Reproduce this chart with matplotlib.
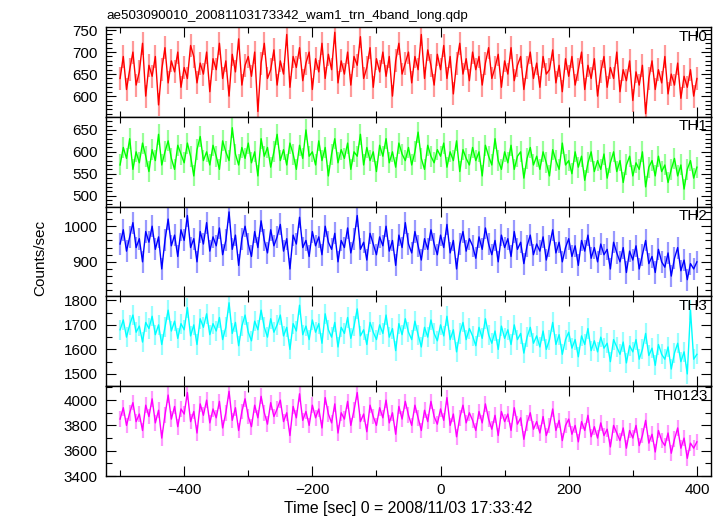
import numpy as np
import matplotlib
matplotlib.use("Agg")
import matplotlib.pyplot as plt
from matplotlib.ticker import MultipleLocator

plt.rcParams['font.family'] = ['Liberation Sans', 'DejaVu Sans']

# time grid: one value every 5 s from -500 to 400
t_start, t_step = -500, 5

th0 = [
    640, 690, 615, 660, 700, 625, 655, 720, 600, 670,
    645, 690, 580, 660, 710, 630, 680, 655, 700, 620,
    665, 640, 715, 690, 630, 675, 650, 700, 610, 685,
    660, 720, 640, 680, 600, 695, 655, 730, 625, 670,
    690, 645, 700, 565, 675, 720, 640, 660, 705, 625,
    680, 650, 740, 620, 690, 665, 710, 635, 675, 700,
    615, 685, 655, 720, 640, 695, 660, 745, 630, 680,
    650, 700, 625, 690, 670, 735, 640, 665, 710, 620,
    685, 655, 700, 645, 690, 600, 680, 720, 650, 675,
    700, 630, 690, 660, 740, 640, 705, 670, 625, 695,
    660, 715, 640, 690, 605, 675, 720, 650, 685, 635,
    700, 660, 690, 625, 675, 710, 640, 665, 695, 620,
    680, 650, 710, 635, 670, 690, 615, 665, 700, 640,
    675, 620, 690, 650, 660, 705, 630, 670, 610, 685,
    645, 690, 625, 660, 700, 615, 670, 640, 685, 600,
    655, 690, 620, 665, 640, 700, 610, 660, 635, 680,
    590, 655, 625, 670, 560, 640, 680, 615, 660, 630,
    690, 605, 650, 625, 675, 595, 645, 620, 660, 600,
    640]

th1 = [
    570, 610, 585, 630, 560, 600, 575, 620, 590, 555,
    605, 580, 640, 570, 600, 625, 585, 560, 615, 595,
    575, 620, 590, 545, 605, 635, 580, 600, 570, 615,
    590, 560, 625, 600, 580, 655, 595, 570, 610, 585,
    620, 575, 600, 545, 630, 590, 610, 565, 600, 640,
    580, 605, 570, 620, 595, 560, 615, 585, 650, 590,
    600, 570, 625, 580, 610, 545, 595, 630, 575, 605,
    585, 620, 560, 600, 590, 640, 570, 610, 580, 600,
    555, 615, 590, 630, 575, 600, 565, 620, 595, 580,
    610, 570, 600, 645, 585, 560, 615, 590, 575, 605,
    590, 620, 565, 600, 580, 625, 555, 605, 585, 570,
    610, 580, 600, 545, 615, 590, 570, 630, 580, 560,
    600, 575, 615, 560, 590, 600, 540, 585, 610, 570,
    590, 560, 600, 575, 545, 605, 580, 560, 620, 570,
    580, 550, 600, 565, 590, 535, 575, 600, 555, 580,
    560, 595, 540, 575, 600, 555, 580, 530, 570, 590,
    545, 575, 560, 600, 520, 565, 580, 545, 590, 555,
    570, 530, 560, 585, 545, 570, 515, 560, 580, 540,
    565]

th2 = [
    950, 990, 930, 970, 1010, 940, 965, 900, 985, 955,
    1000, 935, 970, 880, 960, 1020, 945, 975, 915, 990,
    960, 1030, 940, 965, 900, 985, 950, 1010, 930, 970,
    945, 995, 920, 960, 1040, 935, 975, 890, 965, 1000,
    950, 915, 985, 940, 1015, 960, 925, 990, 945, 970,
    1005, 930, 965, 880, 975, 950, 1025, 940, 960, 915,
    985, 945, 970, 920, 1000, 955, 935, 980, 900, 960,
    940, 995, 925, 965, 1030, 935, 955, 905, 980, 950,
    920, 970, 945, 1000, 930, 960, 890, 975, 940, 1010,
    950, 925, 985, 945, 905, 965, 935, 990, 950, 920,
    975, 940, 1005, 925, 960, 880, 950, 985, 930, 965,
    945, 910, 970, 935, 995, 950, 920, 960, 900, 975,
    940, 965, 915, 985, 935, 955, 895, 945, 975, 920,
    950, 930, 970, 905, 945, 990, 925, 955, 900, 940,
    965, 915, 945, 890, 960, 930, 975, 910, 940, 900,
    950, 920, 935, 880, 955, 925, 900, 940, 870, 930,
    905, 945, 880, 920, 960, 895, 915, 870, 935, 900,
    885, 925, 860, 910, 940, 875, 905, 850, 895, 880,
    900]

th3 = [
    1680, 1720, 1650, 1700, 1740, 1670, 1695, 1630, 1710, 1685,
    1735, 1660, 1700, 1620, 1690, 1760, 1675, 1715, 1645, 1705,
    1680, 1770, 1655, 1700, 1620, 1725, 1690, 1745, 1660, 1705,
    1675, 1730, 1640, 1690, 1790, 1665, 1710, 1615, 1695, 1740,
    1670, 1635, 1715, 1680, 1760, 1690, 1650, 1725, 1670, 1700,
    1740, 1655, 1690, 1600, 1705, 1675, 1780, 1660, 1695, 1640,
    1720, 1670, 1705, 1625, 1745, 1680, 1650, 1710, 1610, 1690,
    1665, 1730, 1645, 1695, 1765, 1655, 1680, 1620, 1710, 1670,
    1640, 1700, 1665, 1740, 1650, 1685, 1595, 1705, 1660, 1725,
    1670, 1640, 1715, 1660, 1610, 1690, 1650, 1720, 1665, 1635,
    1700, 1655, 1735, 1640, 1680, 1590, 1665, 1710, 1640, 1685,
    1655, 1615, 1690, 1645, 1725, 1660, 1625, 1675, 1600, 1695,
    1645, 1680, 1620, 1700, 1640, 1665, 1585, 1650, 1690, 1625,
    1655, 1610, 1675, 1600, 1640, 1710, 1620, 1660, 1580, 1640,
    1670, 1605, 1640, 1570, 1655, 1620, 1685, 1595, 1635, 1590,
    1650, 1605, 1625, 1550, 1640, 1610, 1580, 1630, 1545, 1615,
    1590, 1640, 1560, 1600, 1665, 1575, 1605, 1535, 1620, 1580,
    1560, 1610, 1520, 1585, 1625, 1550, 1590, 1500, 1760, 1560,
    1580]

th0123 = [
    3850, 3940, 3800, 3900, 3980, 3830, 3890, 3760, 3960, 3870,
    4010, 3820, 3920, 3700, 3880, 4040, 3850, 3950, 3790, 3930,
    3890, 4060, 3830, 3910, 3740, 3970, 3880, 4000, 3820, 3930,
    3860, 3990, 3780, 3900, 4070, 3840, 3940, 3760, 3910, 4010,
    3870, 3790, 3960, 3860, 4030, 3900, 3810, 3980, 3870, 3930,
    4000, 3830, 3900, 3720, 3950, 3860, 4050, 3840, 3910, 3800,
    3960, 3860, 3930, 3780, 4020, 3890, 3820, 3970, 3740, 3900,
    3850, 3990, 3800, 3920, 4060, 3830, 3890, 3750, 3960, 3870,
    3800, 3940, 3860, 4000, 3820, 3900, 3730, 3950, 3850, 3990,
    3880, 3800, 3960, 3860, 3760, 3920, 3830, 3990, 3870, 3810,
    3930, 3840, 4020, 3800, 3890, 3710, 3860, 3960, 3820, 3900,
    3840, 3760, 3910, 3820, 3970, 3850, 3770, 3880, 3720, 3910,
    3830, 3890, 3760, 3940, 3810, 3860, 3690, 3820, 3900, 3770,
    3830, 3740, 3870, 3720, 3800, 3930, 3760, 3840, 3680, 3800,
    3850, 3730, 3800, 3670, 3830, 3760, 3880, 3710, 3790, 3700,
    3820, 3720, 3770, 3630, 3800, 3740, 3680, 3780, 3620, 3760,
    3700, 3800, 3640, 3720, 3840, 3660, 3730, 3590, 3760, 3680,
    3640, 3740, 3580, 3690, 3780, 3620, 3700, 3540, 3660, 3620,
    3670]

bands = ["TH0", "TH1", "TH2", "TH3", "TH0123"]
series = [th0, th1, th2, th3, th0123]
errors = [26, 24, 31, 41, 62]
colors = ["#ff0000", "#00ff00", "#0000ff", "#00ffff", "#ff00ff"]
ylims = [(553, 757), (475, 680), (803, 1055), (1450, 1816), (3400, 4110)]
majors = [50, 50, 100, 100, 200]
minors = [10, 10, 20, 50, 100]

fig = plt.figure(figsize=(7.23, 5.16), dpi=100)
gs = fig.add_gridspec(5, 1, left=0.1466, right=0.9834, top=0.9477,
                      bottom=0.0775, hspace=0)

fs = 11
for i in range(5):
    ax = fig.add_subplot(gs[i])
    y = np.array(series[i], dtype=float)
    t = t_start + t_step * np.arange(len(y))
    ax.vlines(t, y - errors[i], y + errors[i], color=colors[i],
              alpha=0.4, lw=1.6)
    ax.plot(t, y, color=colors[i], lw=1.0)
    ax.set_xlim(-522, 422)
    ax.set_ylim(*ylims[i])
    ax.xaxis.set_major_locator(MultipleLocator(200))
    ax.xaxis.set_minor_locator(MultipleLocator(100))
    ax.yaxis.set_major_locator(MultipleLocator(majors[i]))
    ax.yaxis.set_minor_locator(MultipleLocator(minors[i]))
    ax.tick_params(which='both', direction='in', top=True, right=True,
                   labelsize=fs, width=0.8)
    ax.tick_params(which='major', length=7)
    ax.tick_params(which='minor', length=4)
    ax.tick_params(axis='y', pad=6)
    ax.tick_params(axis='x', pad=5)
    for s in ax.spines.values():
        s.set_linewidth(1.0)
    if i < 4:
        ax.tick_params(labelbottom=False)
    ax.text(0.995, 0.97, bands[i], transform=ax.transAxes, ha='right',
            va='top', fontsize=fs)
    if i == 0:
        ax.set_title("ae503090010_20081103173342_wam1_trn_4band_long.qdp",
                     loc='left', fontsize=9.6, pad=6)
    if i == 4:
        ax.set_xlabel("Time [sec] 0 = 2008/11/03 17:33:42", fontsize=11.4,
                      labelpad=3)

fig.text(0.055, 0.5, "Counts/sec", rotation=90, ha='center', va='center',
         fontsize=11)

fig.savefig("out.png", dpi=100)
